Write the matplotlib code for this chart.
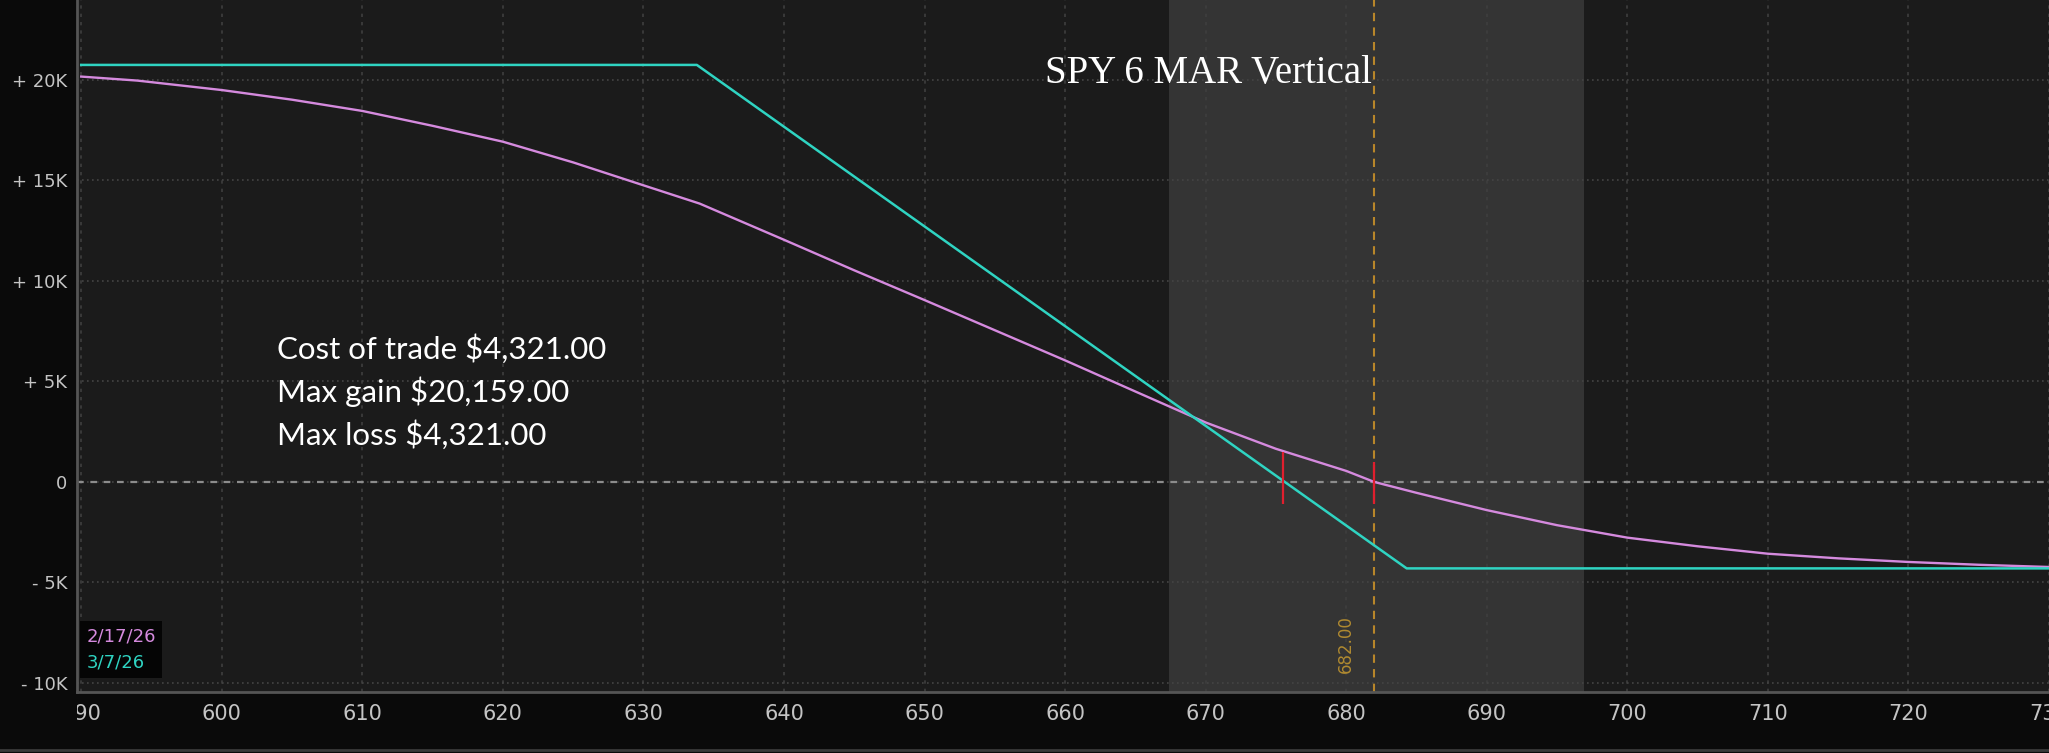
import matplotlib
matplotlib.use("Agg")
import matplotlib.pyplot as plt
from matplotlib.transforms import Bbox, TransformedBbox
from matplotlib.lines import Line2D

# P/L curves (underlying price vs. dollars)
price_now = [590, 594, 600, 605, 610, 615, 620, 625, 630, 634, 640, 645, 650, 655,
             660, 665, 670, 675, 680, 682, 685, 690, 695, 700, 705, 710, 715, 720, 725, 730]
pl_now = [20170, 19970, 19500, 19020, 18460, 17720, 16930, 15900, 14760, 13850, 12050,
          10530, 9050, 7550, 6050, 4500, 2960, 1650, 550, 0, -540, -1400, -2150, -2770,
          -3200, -3570, -3800, -3980, -4120, -4230]
price_exp = [590, 633.8, 684.3, 730]
pl_exp = [20750, 20750, -4300, -4300]

label_now = '2/17/26'
label_exp = '3/7/26'
breakevens = [675.5, 682.0]
current_price = 682.0
sigma_lo, sigma_hi = 667.4, 696.9

xticks = list(range(590, 731, 10))
yticks = [-10000, -5000, 0, 5000, 10000, 15000, 20000]
ytick_labels = ['- 10K', '- 5K', '0', '+ 5K', '+ 10K', '+ 15K', '+ 20K']

title = 'SPY 6 MAR Vertical'
info_lines = ['Cost of trade $4,321.00', 'Max gain $20,159.00', 'Max loss $4,321.00']

c_now = '#d58ade'
c_exp = '#2fd4c2'
tick_font = ['Liberation Sans Narrow', 'DejaVu Sans']

W, H = 2049, 753
fig = plt.figure(figsize=(W / 100, H / 100), dpi=100, facecolor='#0a0a0a')
ax = fig.add_axes([77 / W, 61 / H, 1 - 77 / W, 692 / H])
ax.set_facecolor('#1b1b1b')

ax.axvspan(sigma_lo, sigma_hi, color='#343434', zorder=1, lw=0)
ax.axhline(0, color='#8c8c8c', ls=(0, (3, 3)), lw=1.6, zorder=1.7)

ax.plot(price_now, pl_now, color=c_now, lw=1.7, zorder=3, label=label_now)
ax.plot(price_exp, pl_exp, color=c_exp, lw=1.8, zorder=3, label=label_exp)

ax.axvline(current_price, color='#b8862a', ls=(0, (4, 3)), lw=1.5, zorder=2.5)
ax.vlines(breakevens, [-1100, -1100], [1500, 1000], colors='#e01f2e', lw=1.6, zorder=4)
ax.text(current_price - 2.0, -9500, f'{current_price:.2f}', rotation=90, ha='center',
        va='bottom', color='#b08a30', fontsize=12, family=tick_font)

ax.set_xlim(589.7, 730.0)
ax.set_ylim(-10450, 23980)
ax.set_xticks(xticks)
ax.set_xticklabels([str(t) for t in xticks])
ax.set_yticks(yticks)
ax.set_yticklabels(ytick_labels)
ax.tick_params(axis='both', length=0, colors='#c4c4c4', labelsize=13)
ax.tick_params(axis='x', pad=9, labelsize=15)
ax.tick_params(axis='y', pad=7)
for lab in ax.get_xticklabels() + ax.get_yticklabels():
    lab.set_family(tick_font)

ax.set_axisbelow('line')
ax.grid(True, color='#3e3e3e', ls=(0, (2, 3)), lw=1.2)
ax.grid(True, axis='y', color='#444444', ls=(0, (1, 2)), lw=1.2)

for s in ['top', 'right']:
    ax.spines[s].set_visible(False)
for s in ['bottom', 'left']:
    ax.spines[s].set_color('#555555')
    ax.spines[s].set_linewidth(2)

# clip x labels to the plot area, as the reference cuts "590" to "90"
clip = TransformedBbox(Bbox([[77 / W, 0], [1, 1]]), fig.transFigure)
for lab in ax.get_xticklabels():
    lab.set_clip_box(clip)
    lab.set_clip_on(True)

leg = ax.legend(loc='lower left', bbox_to_anchor=(0.0015, 0.02), borderaxespad=0,
                handlelength=0, handletextpad=0, labelcolor='linecolor',
                facecolor='#050505', edgecolor='none', framealpha=1, fancybox=False,
                prop={'family': tick_font, 'size': 13}, borderpad=0.35, labelspacing=0.45)

fig.text(1208 / W, 1 - 83 / H, title, ha='center', va='baseline', color='white',
         family='Liberation Serif', fontsize=28)
for i, line in enumerate(info_lines):
    fig.text(277 / W, 1 - (359 + 43 * i) / H, line, ha='left', va='baseline',
             color='white', family='Lato', fontsize=22.5)

fig.add_artist(Line2D([0, 1], [1 - 750 / H] * 2, color='#3a3a3a', lw=2,
                      transform=fig.transFigure))

fig.savefig('out.png', dpi=100, facecolor=fig.get_facecolor())
